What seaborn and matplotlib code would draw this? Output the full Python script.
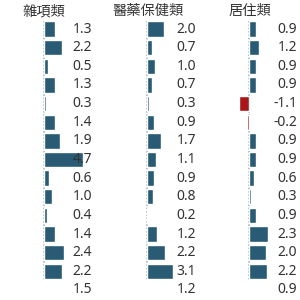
import matplotlib
matplotlib.use("Agg")
import matplotlib.pyplot as plt
import numpy as np
import pandas as pd
import seaborn as sns

# column headers
titles = ["雜項類", "醫藥保健類", "居住類"]

# bar values (rows 1-14) and the last summary row (text only)
misc = [1.3, 2.2, 0.5, 1.3, 0.3, 1.4, 1.9, 4.7, 0.6, 1.0, 0.4, 1.4, 2.4, 2.2]
medical = [2.0, 0.7, 1.0, 0.7, 0.3, 0.9, 1.7, 1.1, 0.9, 0.8, 0.2, 1.2, 2.2, 3.1]
housing = [0.9, 1.2, 0.9, 0.9, -1.1, -0.2, 0.9, 0.9, 0.6, 0.3, 0.9, 2.3, 2.0, 2.2]
summary = [1.5, 1.2, 0.9]

series = [misc, medical, housing]
rows = [str(i) for i in range(15)]

sns.set_theme(style="white")
plt.rcParams["font.family"] = ["Noto Sans", "Noto Sans CJK TC", "DejaVu Sans"]

BLUE = "#1c5f80"
RED = "#c00000"
TXT = "#333333"

fig = plt.figure(figsize=(3, 3), dpi=100)

px_per_unit = 8.5
zeros = [43.5, 146.5, 248.7]
title_x = [44, 148, 250]
label_right = [92, 196, 297]
top_px, bot_px = 29 - 9.32, 290 + 9.32

for i, (vals, title) in enumerate(zip(series, titles)):
    z = zeros[i]
    left_px, right_px = z - 42, z + 56
    ax = fig.add_axes([left_px / 300, 1 - bot_px / 300,
                       (right_px - left_px) / 300, (bot_px - top_px) / 300])
    df = pd.DataFrame({
        "row": rows,
        "value": vals + [np.nan],
    })
    df["sign"] = np.where(df["value"] < 0, "neg", "pos")
    sns.barplot(data=df, y="row", x="value", hue="sign", order=rows,
                hue_order=["pos", "neg"], palette={"pos": BLUE, "neg": RED},
                orient="h", width=0.82, dodge=False, legend=False, ax=ax,
                zorder=2)
    ax.set_xlim(-42 / px_per_unit, 56 / px_per_unit)
    ax.set_ylim(14.5, -0.5)
    # dotted zero line
    ax.plot([0, 0], [-0.45, 13.45], color="#9fb6c8", linestyle=(0, (1, 1)),
            linewidth=1.2, zorder=1)
    lx = (label_right[i] - z) / px_per_unit
    for r, v in enumerate(vals + [summary[i]]):
        ax.text(lx, r, f"{v:.1f}", ha="right", va="center", fontsize=10,
                color=TXT, zorder=3)
    ax.set_axis_off()
    fig.text(title_x[i] / 300, 1 - 11 / 300, title, ha="center", va="center",
             fontsize=10.3, color=TXT, family=["Noto Sans CJK TC"])

fig.savefig("out.png", dpi=100)
